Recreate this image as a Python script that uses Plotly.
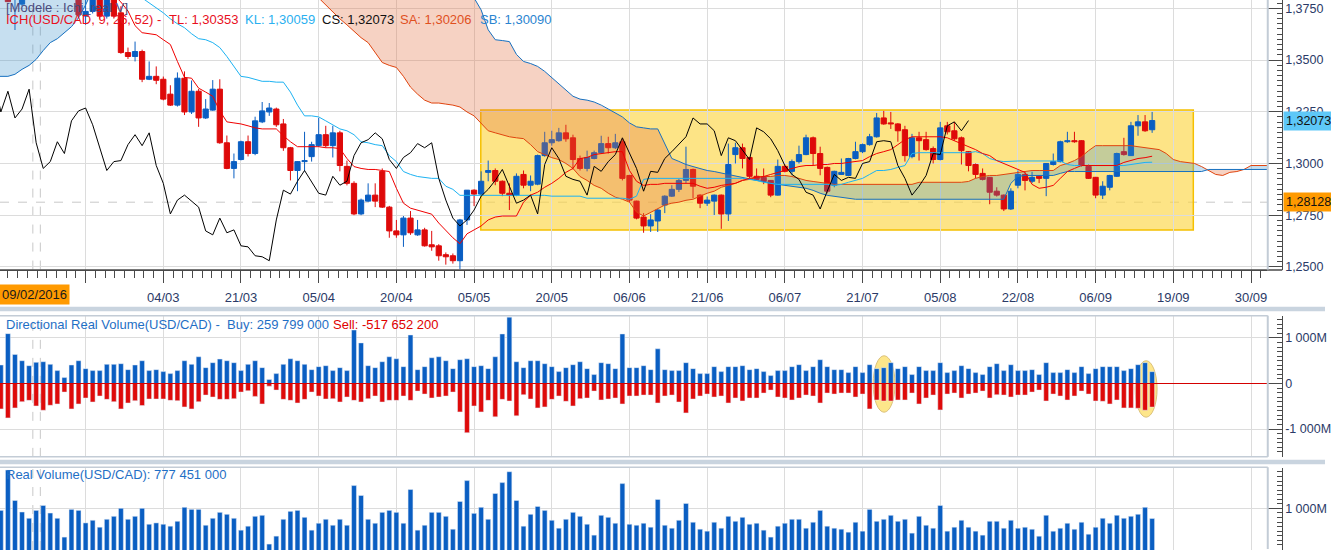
import plotly.graph_objects as go

W, H = 1331, 555

# one bar per weekday, bar 0 = 01/02/2016, last bar 164 = 16/09/2016
opens = [
    1.4030, 1.4050, 1.3985, 1.3800, 1.3770, 1.3880, 1.3920, 1.3890, 1.3860, 1.3900,
    1.3880, 1.3840, 1.3870, 1.3712, 1.3735, 1.3825, 1.3712, 1.3805, 1.3728, 1.3536,
    1.3517, 1.3541, 1.3407, 1.3421, 1.3407, 1.3335, 1.3282, 1.3412, 1.3249, 1.3349,
    1.3220, 1.3258, 1.3359, 1.3100, 1.2976, 1.3019, 1.3105, 1.3048, 1.3201, 1.3249,
    1.3263, 1.3191, 1.3076, 1.2966, 1.3009, 1.3033, 1.3086, 1.3139, 1.3086, 1.3148,
    1.2986, 1.2904, 1.2756, 1.2818, 1.2847, 1.2962, 1.2789, 1.2674, 1.2655, 1.2736,
    1.2655, 1.2679, 1.2607, 1.2602, 1.2559, 1.2554, 1.2530, 1.2727, 1.2871, 1.2852,
    1.2957, 1.2966, 1.2914, 1.2856, 1.2847, 1.2947, 1.2895, 1.2900, 1.3038, 1.3100,
    1.3110, 1.3148, 1.3124, 1.3024, 1.2976, 1.3024, 1.3052, 1.3096, 1.3076, 1.3105,
    1.2942, 1.2818, 1.2741, 1.2698, 1.2722, 1.2799, 1.2842, 1.2875, 1.2918, 1.2971,
    1.2847, 1.2808, 1.2818, 1.2847, 1.2756, 1.3043, 1.3076, 1.3029, 1.2938, 1.2933,
    1.2918, 1.2847, 1.2986, 1.2962, 1.3009, 1.3043, 1.3124, 1.3048, 1.2981, 1.2895,
    1.2947, 1.2942, 1.3024, 1.3057, 1.3091, 1.3129, 1.3220, 1.3196, 1.3191, 1.3163,
    1.3033, 1.3124, 1.3115, 1.3072, 1.3019, 1.3182, 1.3158, 1.3124, 1.3057, 1.2995,
    1.2952, 1.2933, 1.2866, 1.2847, 1.2780, 1.2895, 1.2947, 1.2914, 1.2938, 1.2928,
    1.2995, 1.3009, 1.3105, 1.3110, 1.3110, 1.2986, 1.2933, 1.2847, 1.2885, 1.2938,
    1.3057, 1.3038, 1.3182, 1.3201, 1.3163,
]
highs = [
    1.4085, 1.4090, 1.4000, 1.3850, 1.3905, 1.3950, 1.3960, 1.3930, 1.3920, 1.3950,
    1.3920, 1.3900, 1.3890, 1.3800, 1.3850, 1.3840, 1.3830, 1.3820, 1.3760, 1.3560,
    1.3589, 1.3550, 1.3493, 1.3469, 1.3420, 1.3378, 1.3440, 1.3445, 1.3401, 1.3360,
    1.3311, 1.3403, 1.3407, 1.3135, 1.3048, 1.3110, 1.3135, 1.3226, 1.3297, 1.3292,
    1.3270, 1.3215, 1.3080, 1.3010, 1.3153, 1.3105, 1.3220, 1.3182, 1.3182, 1.3158,
    1.3014, 1.2914, 1.2830, 1.2904, 1.2904, 1.2976, 1.2795, 1.2727, 1.2746, 1.2770,
    1.2727, 1.2689, 1.2674, 1.2610, 1.2570, 1.2565, 1.2732, 1.2871, 1.2875, 1.2962,
    1.3014, 1.2976, 1.2918, 1.2904, 1.2952, 1.2966, 1.2942, 1.3043, 1.3153, 1.3158,
    1.3172, 1.3187, 1.3139, 1.3038, 1.3062, 1.3062, 1.3134, 1.3129, 1.3143, 1.3119,
    1.2945, 1.2820, 1.2760, 1.2755, 1.2780, 1.2846, 1.2895, 1.2925, 1.3081, 1.2975,
    1.2851, 1.2840, 1.2850, 1.2850, 1.3096, 1.3100, 1.3096, 1.3030, 1.2976, 1.2976,
    1.2920, 1.3019, 1.2995, 1.3019, 1.3086, 1.3139, 1.3130, 1.3081, 1.2985, 1.2965,
    1.3024, 1.3027, 1.3105, 1.3096, 1.3143, 1.3244, 1.3254, 1.3249, 1.3195, 1.3182,
    1.3143, 1.3153, 1.3153, 1.3082, 1.3201, 1.3201, 1.3201, 1.3130, 1.3060, 1.3000,
    1.2976, 1.2935, 1.2885, 1.2850, 1.2880, 1.2966, 1.2957, 1.2960, 1.2942, 1.3002,
    1.3048, 1.3110, 1.3153, 1.3153, 1.3112, 1.2995, 1.2935, 1.2914, 1.2945, 1.3052,
    1.3124, 1.3201, 1.3234, 1.3234, 1.3249,
]
lows = [
    1.3985, 1.3960, 1.3780, 1.3645, 1.3760, 1.3840, 1.3860, 1.3830, 1.3820, 1.3850,
    1.3810, 1.3800, 1.3705, 1.3670, 1.3725, 1.3700, 1.3700, 1.3700, 1.3530, 1.3505,
    1.3493, 1.3393, 1.3403, 1.3383, 1.3305, 1.3278, 1.3275, 1.3234, 1.3239, 1.3177,
    1.3215, 1.3255, 1.3095, 1.2972, 1.2928, 1.3015, 1.3034, 1.3040, 1.3195, 1.3230,
    1.3177, 1.3061, 1.2918, 1.2866, 1.2962, 1.3009, 1.3080, 1.3076, 1.3029, 1.2962,
    1.2894, 1.2750, 1.2750, 1.2815, 1.2789, 1.2785, 1.2641, 1.2641, 1.2597, 1.2655,
    1.2650, 1.2598, 1.2578, 1.2530, 1.2511, 1.2516, 1.2488, 1.2703, 1.2794, 1.2845,
    1.2914, 1.2895, 1.2842, 1.2775, 1.2842, 1.2880, 1.2866, 1.2895, 1.3033, 1.3086,
    1.3105, 1.3105, 1.2971, 1.2966, 1.2962, 1.3020, 1.3048, 1.3048, 1.3070, 1.2918,
    1.2813, 1.2730, 1.2665, 1.2669, 1.2669, 1.2760, 1.2838, 1.2862, 1.2904, 1.2832,
    1.2784, 1.2795, 1.2751, 1.2684, 1.2722, 1.3000, 1.2976, 1.2930, 1.2920, 1.2900,
    1.2837, 1.2845, 1.2957, 1.2943, 1.3000, 1.3040, 1.2990, 1.2943, 1.2856, 1.2885,
    1.2945, 1.2940, 1.3020, 1.3050, 1.3086, 1.3125, 1.3187, 1.3167, 1.3105, 1.3009,
    1.3025, 1.3014, 1.3062, 1.3000, 1.3015, 1.3140, 1.3110, 1.2995, 1.2962, 1.2928,
    1.2918, 1.2803, 1.2840, 1.2770, 1.2775, 1.2880, 1.2870, 1.2905, 1.2905, 1.2842,
    1.2990, 1.3005, 1.3100, 1.3100, 1.2985, 1.2925, 1.2832, 1.2828, 1.2870, 1.2935,
    1.3038, 1.3036, 1.3134, 1.3153, 1.3148,
]
closes = [
    1.4050, 1.3985, 1.3782, 1.3830, 1.3880, 1.3920, 1.3890, 1.3860, 1.3900, 1.3880,
    1.3840, 1.3870, 1.3718, 1.3735, 1.3825, 1.3712, 1.3805, 1.3712, 1.3536, 1.3517,
    1.3541, 1.3407, 1.3421, 1.3402, 1.3311, 1.3282, 1.3412, 1.3249, 1.3349, 1.3220,
    1.3263, 1.3359, 1.3100, 1.2976, 1.3009, 1.3105, 1.3048, 1.3206, 1.3254, 1.3268,
    1.3187, 1.3076, 1.2966, 1.3009, 1.3014, 1.3091, 1.3139, 1.3086, 1.3148, 1.2990,
    1.2904, 1.2756, 1.2823, 1.2847, 1.2818, 1.2789, 1.2674, 1.2655, 1.2736, 1.2665,
    1.2679, 1.2602, 1.2597, 1.2554, 1.2549, 1.2530, 1.2727, 1.2871, 1.2852, 1.2914,
    1.2966, 1.2914, 1.2856, 1.2847, 1.2938, 1.2895, 1.2914, 1.3038, 1.3100, 1.3115,
    1.3148, 1.3119, 1.3019, 1.2976, 1.3029, 1.3052, 1.3096, 1.3076, 1.3100, 1.2928,
    1.2823, 1.2736, 1.2698, 1.2727, 1.2775, 1.2842, 1.2875, 1.2918, 1.2971, 1.2890,
    1.2808, 1.2823, 1.2847, 1.2756, 1.2995, 1.3076, 1.3024, 1.2938, 1.2923, 1.2914,
    1.2847, 1.2986, 1.2962, 1.3009, 1.3043, 1.3124, 1.3048, 1.2976, 1.2866, 1.2962,
    1.2957, 1.3024, 1.3057, 1.3091, 1.3129, 1.3220, 1.3191, 1.3191, 1.3158, 1.3038,
    1.3124, 1.3110, 1.3067, 1.3019, 1.3172, 1.3153, 1.3119, 1.3062, 1.2990, 1.2947,
    1.2923, 1.2861, 1.2847, 1.2780, 1.2866, 1.2947, 1.2918, 1.2933, 1.2928, 1.3000,
    1.3009, 1.3105, 1.3110, 1.3105, 1.2990, 1.2928, 1.2847, 1.2890, 1.2942, 1.3048,
    1.3043, 1.3182, 1.3201, 1.3158, 1.32073,
]

# Ichimoku lines
tenkan_start = 17
tenkan = [
    1.3814, 1.3780, 1.3737, 1.3666, 1.3632, 1.3627, 1.3622, 1.3598, 1.3575, 1.3493,
    1.3416, 1.3412, 1.3364, 1.3345, 1.3325, 1.3254, 1.3201, 1.3196, 1.3191, 1.3182,
    1.3172, 1.3167, 1.3167, 1.3167, 1.3134, 1.3105, 1.3081, 1.3081, 1.3081, 1.3081,
    1.3076, 1.3076, 1.3072, 1.3024, 1.2985, 1.2976, 1.2971, 1.2971, 1.2966, 1.2961,
    1.2880, 1.2808, 1.2784, 1.2775, 1.2765, 1.2755, 1.2712, 1.2674, 1.2641, 1.2612,
    1.2660, 1.2679, 1.2698, 1.2727, 1.2741, 1.2746, 1.2746, 1.2746, 1.2813, 1.2847,
    1.2861, 1.2885, 1.2904, 1.2928, 1.2957, 1.2976, 1.3024, 1.3029, 1.3043, 1.3048,
    1.3052, 1.3057, 1.3057, 1.2966, 1.2914, 1.2894, 1.2899, 1.2899, 1.2904, 1.2904,
    1.2904, 1.2904, 1.2904, 1.2890, 1.2880, 1.2885, 1.2894, 1.2899, 1.2904, 1.2918,
    1.2928, 1.2933, 1.2937, 1.2947, 1.2957, 1.2966, 1.2976, 1.2985, 1.2990, 1.2990,
    1.2995, 1.2995, 1.3000, 1.3000, 1.3005, 1.3009, 1.3014, 1.3033, 1.3048, 1.3057,
    1.3067, 1.3091, 1.3115, 1.3129, 1.3129, 1.3129, 1.3129, 1.3129, 1.3124, 1.3110,
    1.3096, 1.3081, 1.3067, 1.3048, 1.3038, 1.3014, 1.3000, 1.2985, 1.2971, 1.2957,
    1.2899, 1.2880, 1.2885, 1.2894, 1.2928, 1.2961, 1.2976, 1.2990, 1.2990, 1.2990,
    1.2990, 1.2990, 1.2990, 1.3005, 1.3014, 1.3024, 1.3028, 1.3035,
]
kijun_start = 21
kijun = [
    1.3800, 1.3776, 1.3752, 1.3728, 1.3699, 1.3675, 1.3656, 1.3627, 1.3603, 1.3598,
    1.3584, 1.3560, 1.3517, 1.3469, 1.3421, 1.3416, 1.3407, 1.3397, 1.3397, 1.3393,
    1.3393, 1.3345, 1.3282, 1.3230, 1.3230, 1.3225, 1.3206, 1.3187, 1.3167, 1.3158,
    1.3139, 1.3105, 1.3100, 1.3091, 1.3086, 1.3038, 1.3009, 1.2961, 1.2947, 1.2937,
    1.2933, 1.2928, 1.2928, 1.2890, 1.2875, 1.2846, 1.2846, 1.2846, 1.2846, 1.2846,
    1.2846, 1.2846, 1.2846, 1.2846, 1.2846, 1.2846, 1.2846, 1.2846, 1.2842, 1.2842,
    1.2842, 1.2842, 1.2842, 1.2832, 1.2832, 1.2832, 1.2832, 1.2832, 1.2832, 1.2827,
    1.2842, 1.2923, 1.2928, 1.2928, 1.2928, 1.2928, 1.2928, 1.2928, 1.2928, 1.2928,
    1.2928, 1.2928, 1.2928, 1.2928, 1.2928, 1.2928, 1.2923, 1.2918, 1.2909, 1.2904,
    1.2899, 1.2899, 1.2899, 1.2899, 1.2899, 1.2899, 1.2899, 1.2899, 1.2894, 1.2899,
    1.2909, 1.2918, 1.2928, 1.2947, 1.2966, 1.2966, 1.2971, 1.2981, 1.2990, 1.3048,
    1.3052, 1.3052, 1.3052, 1.3052, 1.3052, 1.3052, 1.3052, 1.3052, 1.3057, 1.3048,
    1.3024, 1.3014, 1.3009, 1.3012, 1.3012, 1.3012, 1.3012, 1.3012, 1.3012, 1.3012,
    1.3012, 1.2995, 1.2990, 1.2990, 1.2990, 1.2990, 1.2990, 1.2990, 1.2990, 1.2990,
    1.2995, 1.3000, 1.3005, 1.3006,
]
# senkou spans, bar 0 .. 181 (runs 17 bars past the last candle)
senkou_a = [
    1.4100, 1.4100, 1.4100, 1.4100, 1.4100, 1.4100, 1.4100, 1.4100, 1.4100, 1.4100,
    1.4100, 1.4100, 1.4100, 1.4100, 1.4100, 1.4100, 1.4100, 1.4100, 1.4100, 1.4100,
    1.4100, 1.4100, 1.4100, 1.4100, 1.4100, 1.4100, 1.3950, 1.3950, 1.3950, 1.3950,
    1.3950, 1.3950, 1.3950, 1.3950, 1.3950, 1.3950, 1.3950, 1.3950, 1.3950, 1.3950,
    1.3950, 1.3950, 1.3950, 1.3950, 1.3950, 1.3950, 1.3800, 1.3766, 1.3733, 1.3699,
    1.3670, 1.3637, 1.3608, 1.3584, 1.3536, 1.3488, 1.3474, 1.3464, 1.3421, 1.3369,
    1.3335, 1.3306, 1.3292, 1.3292, 1.3287, 1.3282, 1.3273, 1.3249, 1.3230, 1.3196,
    1.3158, 1.3148, 1.3139, 1.3129, 1.3124, 1.3120, 1.3091, 1.3057, 1.3043, 1.3028,
    1.3019, 1.3000, 1.2976, 1.2937, 1.2918, 1.2894, 1.2880, 1.2856, 1.2837, 1.2827,
    1.2813, 1.2765, 1.2746, 1.2765, 1.2784, 1.2799, 1.2808, 1.2813, 1.2822, 1.2827,
    1.2842, 1.2856, 1.2866, 1.2885, 1.2894, 1.2904, 1.2918, 1.2923, 1.2933, 1.2937,
    1.2937, 1.2942, 1.2942, 1.2937, 1.2928, 1.2918, 1.2913, 1.2909, 1.2904, 1.2899,
    1.2899, 1.2899, 1.2899, 1.2899, 1.2899, 1.2899, 1.2899, 1.2899, 1.2899, 1.2899,
    1.2899, 1.2909, 1.2909, 1.2909, 1.2909, 1.2909, 1.2909, 1.2909, 1.2913, 1.2928,
    1.2937, 1.2942, 1.2942, 1.2947, 1.2952, 1.2957, 1.2961, 1.2966, 1.2966, 1.2966,
    1.2966, 1.2990, 1.3000, 1.3014, 1.3033, 1.3062, 1.3086, 1.3086, 1.3086, 1.3086,
    1.3086, 1.3086, 1.3081, 1.3076, 1.3072, 1.3067, 1.3048, 1.3019, 1.3009, 1.3004,
    1.3000, 1.2985, 1.2966, 1.2947, 1.2942, 1.2957, 1.2961, 1.2971, 1.2990, 1.2990,
    1.2990, 1.2990,
]
senkou_b = [
    1.3421, 1.3421, 1.3421, 1.3431, 1.3455, 1.3474, 1.3503, 1.3546, 1.3584, 1.3603,
    1.3632, 1.3661, 1.3704, 1.3766, 1.3840, 1.4000, 1.4000, 1.4000, 1.4000, 1.4000,
    1.4000, 1.4000, 1.4000, 1.4000, 1.4000, 1.4000, 1.4000, 1.4000, 1.4000, 1.4000,
    1.4000, 1.4000, 1.4000, 1.4000, 1.4000, 1.4000, 1.4000, 1.4000, 1.4000, 1.4000,
    1.4000, 1.4000, 1.4000, 1.4000, 1.4000, 1.4000, 1.4000, 1.4000, 1.4000, 1.4000,
    1.4000, 1.4000, 1.4000, 1.4000, 1.4000, 1.4000, 1.4000, 1.4000, 1.4000, 1.4000,
    1.4000, 1.4000, 1.4000, 1.4000, 1.4000, 1.4000, 1.4000, 1.4000, 1.3800, 1.3742,
    1.3646, 1.3598, 1.3594, 1.3589, 1.3527, 1.3493, 1.3483, 1.3469, 1.3445, 1.3416,
    1.3383, 1.3354, 1.3325, 1.3311, 1.3306, 1.3297, 1.3282, 1.3263, 1.3244, 1.3225,
    1.3196, 1.3177, 1.3172, 1.3167, 1.3167, 1.3095, 1.3024, 1.3010, 1.2995, 1.2985,
    1.2976, 1.2966, 1.2961, 1.2954, 1.2947, 1.2940, 1.2933, 1.2923, 1.2918, 1.2913,
    1.2904, 1.2899, 1.2894, 1.2890, 1.2885, 1.2880, 1.2870, 1.2856, 1.2846, 1.2842,
    1.2837, 1.2832, 1.2827, 1.2827, 1.2827, 1.2827, 1.2827, 1.2827, 1.2827, 1.2827,
    1.2827, 1.2827, 1.2827, 1.2827, 1.2827, 1.2827, 1.2827, 1.2827, 1.2827, 1.2827,
    1.2827, 1.2827, 1.2827, 1.2827, 1.2904, 1.2937, 1.2942, 1.2942, 1.2942, 1.2942,
    1.2942, 1.2952, 1.2961, 1.2961, 1.2961, 1.2961, 1.2961, 1.2961, 1.2961, 1.2961,
    1.2961, 1.2961, 1.2961, 1.2961, 1.2961, 1.2961, 1.2961, 1.2961, 1.2961, 1.2961,
    1.2961, 1.2961, 1.2971, 1.2971, 1.2971, 1.2971, 1.2971, 1.2971, 1.2971, 1.2971,
    1.2971, 1.2971,
]

# volumes in millions, bar 1 .. 164
vol_start = 1
buy_vol = [
    406, 1094, 638, 500, 391, 464, 478, 420, 283, 130,
    406, 500, 326, 283, 283, 420, 420, 435, 304, 406,
    500, 283, 304, 261, 217, 283, 500, 420, 587, 348,
    457, 536, 500, 457, 283, 420, 500, 348, 87, 217,
    420, 543, 500, 420, 304, 370, 391, 283, 348, 283,
    1174, 891, 391, 348, 478, 587, 543, 370, 1065, 304,
    370, 565, 587, 500, 326, 522, 543, 370, 391, 326,
    587, 1087, 1456, 478, 348, 500, 500, 435, 370, 261,
    348, 413, 478, 326, 196, 457, 435, 326, 1087, 348,
    348, 391, 304, 761, 304, 283, 283, 457, 326, 217,
    217, 370, 261, 370, 370, 391, 304, 326, 261, 174,
    283, 283, 370, 413, 283, 370, 522, 370, 304, 304,
    239, 370, 239, 413, 326, 348, 457, 326, 370, 196,
    370, 283, 283, 457, 239, 283, 391, 326, 239, 196,
    370, 435, 283, 413, 283, 283, 304, 196, 457, 239,
    239, 304, 239, 370, 217, 326, 370, 370, 370, 283,
    326, 413, 457, 260,
]
sell_vol = [
    -558, -754, -536, -399, -370, -493, -587, -478, -449, -188,
    -558, -449, -319, -406, -275, -348, -399, -558, -428, -377,
    -485, -341, -341, -341, -370, -377, -514, -558, -399, -254,
    -297, -348, -348, -333, -188, -159, -283, -449, -58, -145,
    -348, -370, -428, -348, -188, -275, -341, -333, -406, -297,
    -370, -406, -333, -275, -406, -370, -370, -275, -370, -167,
    -232, -319, -297, -275, -188, -623, -1080, -493, -623, -370,
    -732, -348, -384, -710, -246, -341, -536, -514, -348, -275,
    -391, -493, -333, -319, -167, -362, -341, -319, -449, -275,
    -275, -254, -254, -428, -275, -254, -406, -645, -341, -275,
    -232, -297, -275, -428, -319, -384, -319, -319, -210, -145,
    -297, -319, -362, -319, -254, -275, -428, -210, -232, -210,
    -210, -297, -232, -558, -362, -384, -384, -362, -362, -210,
    -449, -319, -254, -580, -232, -210, -319, -232, -210, -167,
    -319, -246, -254, -297, -254, -254, -188, -145, -384, -232,
    -275, -362, -275, -167, -232, -384, -391, -449, -362, -536,
    -536, -543, -587, -518,
]
real_vol = [
    956, 1840, 1174, 920, 783, 956, 1065, 898, 783, 370,
    978, 956, 681, 739, 587, 761, 826, 1000, 761, 826,
    1000, 652, 681, 652, 609, 717, 1022, 978, 978, 630,
    783, 913, 870, 783, 522, 609, 826, 848, 217, 391,
    761, 935, 956, 804, 522, 674, 761, 630, 761, 630,
    1500, 1283, 761, 674, 913, 956, 913, 674, 1413, 522,
    630, 913, 913, 826, 543, 1152, 1609, 891, 1022, 761,
    1326, 1565, 1804, 1174, 609, 870, 1043, 956, 739, 565,
    761, 913, 826, 652, 413, 848, 804, 674, 1543, 652,
    630, 674, 587, 1196, 630, 565, 739, 1109, 696, 543,
    500, 696, 565, 826, 717, 804, 652, 674, 522, 370,
    609, 674, 761, 761, 565, 696, 956, 609, 565, 543,
    478, 696, 500, 978, 717, 761, 848, 717, 761, 457,
    826, 630, 565, 1065, 500, 587, 739, 587, 500, 413,
    717, 717, 565, 739, 565, 587, 543, 391, 848, 500,
    565, 674, 543, 696, 435, 587, 783, 674, 848, 783,
    826, 870, 1022, 777,
]

tick_bars = [13, 24, 35, 46, 57, 68, 79, 90, 101, 112, 123, 134, 145, 156, 167, 178]
tick_labels = ["", "04/03", "21/03", "05/04", "20/04", "05/05", "20/05", "06/06",
               "21/06", "06/07", "21/07", "05/08", "22/08", "06/09", "19/09", "30/09"]

BLUE = "#0a5ec2"
RED = "#de0a0a"
GRID = "#dcdcdc"
AXIS = "#4a4a4a"
FRAME = "#c3ccd6"
TICKTXT = "#2b3a67"
FONT = "Liberation Sans, Arial, sans-serif"


def fx(p):
    return p / W


def fy(p):
    return 1 - p / H


bars = list(range(len(closes)))
up = [c >= o for o, c in zip(opens, closes)]
candle_col = [BLUE if u else RED for u in up]

fig = go.Figure()

# wicks
for flag, col in ((True, BLUE), (False, RED)):
    wx, wy = [], []
    for i in bars:
        if up[i] == flag:
            wx += [i, i, None]
            wy += [lows[i], highs[i], None]
    fig.add_trace(go.Scatter(x=wx, y=wy, mode="lines", line=dict(color=col, width=1),
                             hoverinfo="skip"))

# bodies
fig.add_trace(go.Bar(
    x=bars,
    y=[abs(c - o) for o, c in zip(opens, closes)],
    base=[min(o, c) for o, c in zip(opens, closes)],
    width=0.74,
    marker=dict(color=candle_col, line=dict(color=candle_col, width=1)),
    hoverinfo="skip",
))

# kumo, coloured by which span is on top
cloud_x = list(range(len(senkou_a)))
start = 0
for k in range(1, len(cloud_x) + 1):
    if k == len(cloud_x) or (senkou_a[k] >= senkou_b[k]) != (senkou_a[start] >= senkou_b[start]):
        end = min(k, len(cloud_x) - 1)
        seg = cloud_x[start:end + 1]
        bull = senkou_a[start] >= senkou_b[start]
        fig.add_trace(go.Scatter(
            x=seg + seg[::-1],
            y=senkou_a[start:end + 1] + senkou_b[start:end + 1][::-1],
            mode="lines", fill="toself", line=dict(width=0),
            fillcolor="rgba(60,145,205,0.29)" if bull else "rgba(225,110,60,0.31)",
            hoverinfo="skip",
        ))
        start = k

fig.add_trace(go.Scatter(x=cloud_x, y=senkou_a, mode="lines",
                         line=dict(color="#e0440e", width=1), hoverinfo="skip"))
fig.add_trace(go.Scatter(x=cloud_x, y=senkou_b, mode="lines",
                         line=dict(color="#1670c0", width=1), hoverinfo="skip"))
fig.add_trace(go.Scatter(x=list(range(kijun_start, kijun_start + len(kijun))), y=kijun,
                         mode="lines", line=dict(color="#1cb2f2", width=1), hoverinfo="skip"))
fig.add_trace(go.Scatter(x=list(range(tenkan_start, tenkan_start + len(tenkan))), y=tenkan,
                         mode="lines", line=dict(color="#f00000", width=1), hoverinfo="skip"))
# chikou: closes drawn 26 bars back
fig.add_trace(go.Scatter(x=[i - 26 for i in bars[26:]], y=closes[26:], mode="lines",
                         line=dict(color="#000000", width=1), hoverinfo="skip"))

vol_x = list(range(vol_start, vol_start + len(buy_vol)))
fig.add_trace(go.Bar(x=vol_x, y=buy_vol, width=0.69, marker_color=BLUE,
                     xaxis="x2", yaxis="y2", hoverinfo="skip"))
fig.add_trace(go.Bar(x=vol_x, y=sell_vol, width=0.69, marker_color=RED,
                     xaxis="x2", yaxis="y2", hoverinfo="skip"))
fig.add_trace(go.Bar(x=vol_x, y=real_vol, width=0.69, marker_color=BLUE,
                     xaxis="x3", yaxis="y3", hoverinfo="skip"))
# carrier for the minor date ticks
fig.add_trace(go.Scatter(x=[None], y=[None], xaxis="x4", yaxis="y", hoverinfo="skip"))

xr = [0.88, 180.3]
xdom = [0, fx(1273)]
common_x = dict(range=xr, domain=xdom, tickmode="array", tickvals=tick_bars,
                showgrid=True, gridcolor=GRID, gridwidth=1, zeroline=False)
common_y = dict(anchor="free", position=fx(1287.5), side="right", ticks="inside",
                ticklen=14, tickcolor=AXIS, showline=True, linecolor=AXIS, linewidth=1,
                showgrid=True, gridcolor=GRID, zeroline=False,
                tickfont=dict(size=12.5, color=TICKTXT))

fig.update_layout(
    width=W, height=H,
    margin=dict(l=0, r=0, t=0, b=0),
    paper_bgcolor="white", plot_bgcolor="white",
    showlegend=False, barmode="overlay", separators=", ",
    font=dict(family=FONT, size=13, color="#333333"),
    xaxis=dict(**common_x, anchor="y", ticktext=tick_labels, ticks="outside", ticklen=12,
               tickcolor=AXIS, showline=True, linecolor=AXIS, linewidth=1,
               tickfont=dict(size=13, color=TICKTXT), ticklabelstandoff=4),
    xaxis2=dict(**common_x, anchor="y2", showticklabels=False, ticks=""),
    xaxis3=dict(**common_x, anchor="y3", showticklabels=False, ticks=""),
    xaxis4=dict(range=xr, overlaying="x", anchor="y", side="bottom", tickmode="linear",
                tick0=13, dtick=1.375, ticks="outside", ticklen=7, tickcolor=AXIS,
                showticklabels=False, showgrid=False, zeroline=False),
    yaxis=dict(**common_y, domain=[fy(272), 1], range=[1.24873, 1.3790],
               tickmode="linear", tick0=1.25, dtick=0.025, tickformat=".4f",
               minor=dict(tick0=1.25, dtick=0.0025, ticks="inside", ticklen=5,
                          tickcolor=AXIS, showgrid=False)),
    yaxis2=dict(**common_y, domain=[fy(461), fy(319)], range=[-1609, 1478],
                tickmode="array", tickvals=[-1000, 1000, 0],
                ticktext=["-1 000M", "1 000M", "0"],
                minor=dict(tickmode="linear", tick0=0, dtick=100, ticks="inside", ticklen=5,
                           tickcolor=AXIS, showgrid=False)),
    yaxis3=dict(**common_y, domain=[0, fy(472)], range=[87, 1891],
                tickmode="array", tickvals=[1000], ticktext=["1 000M"],
                minor=dict(tickmode="linear", tick0=0, dtick=100, ticks="inside", ticklen=5,
                           tickcolor=AXIS, showgrid=False)),
)

shapes = [
    # analysis box drawn on the price panel
    dict(type="rect", xref="x", yref="y", x0=68.95, x1=169.83, y0=1.26789, y1=1.32584,
         fillcolor="rgba(252,212,60,0.62)", line=dict(color="#f5c000", width=1.5),
         layer="below"),
    # highlight ellipses on the directional volume
    dict(type="circle", xref="x2", yref="y2", x0=124.5, x1=127.6, y0=-630, y1=609,
         fillcolor="#fde68a", line=dict(color="#dcc27c", width=1), layer="below"),
    dict(type="circle", xref="x2", yref="y2", x0=161.6, x1=164.7, y0=-739, y1=500,
         fillcolor="#fde68a", line=dict(color="#dcc27c", width=1), layer="below"),
    # crosshair
    dict(type="line", xref="x domain", yref="y", x0=0, x1=1, y0=1.28128, y1=1.28128,
         line=dict(color="#c8c8c8", width=1, dash="dash"), layer="below"),
    # zero line of the directional volume, over the bars
    dict(type="line", xref="paper", yref="y2", x0=0, x1=fx(1273), y0=0, y1=0,
         line=dict(color="#d40000", width=1.2)),
]
for xa, ya in (("x", "y"), ("x2", "y2"), ("x3", "y3")):
    for xv in (5.53, 6.59):
        shapes.append(dict(type="line", xref=xa, yref=ya + " domain", x0=xv, x1=xv, y0=0, y1=1,
                           line=dict(color="#c8c8c8", width=1, dash="dash"), layer="below"))


def hline(py, x1=1.0, color=FRAME, width=1.5):
    return dict(type="line", xref="paper", yref="paper", x0=0, x1=x1, y0=fy(py), y1=fy(py),
                line=dict(color=color, width=width))


def vline(px, top, bottom, color=FRAME, width=2):
    return dict(type="line", xref="paper", yref="paper", x0=fx(px), x1=fx(px),
                y0=fy(bottom), y1=fy(top), line=dict(color=color, width=width))


# panel frames and separators
shapes += [
    dict(type="rect", xref="paper", yref="paper", x0=0, x1=1, y0=fy(314), y1=fy(309.5),
         fillcolor="#c9d4df", line=dict(width=0)),
    dict(type="rect", xref="paper", yref="paper", x0=0, x1=1, y0=fy(468.5), y1=fy(464),
         fillcolor="#c9d4df", line=dict(width=0)),
    hline(318.5, fx(1273.5)),
    hline(461, fx(1273.5)),
    hline(471.5, fx(1273.5)),
    hline(272.5, fx(1288), AXIS, 1.5),
    vline(1273.5, 0, 272),
    vline(1273.5, 318.5, 461),
    vline(1273.5, 471.5, 554),
]
fig.update_layout(shapes=shapes)


def label(text, x, y, color, **kw):
    return dict(text=text, xref="paper", yref="paper", x=fx(x), y=fy(y),
                xanchor="left", yanchor="middle", showarrow=False,
                font=dict(family=FONT, size=13, color=color), **kw)


annotations = [
    label("[Modele : Ichi_real V]", 4, 7.5, "#4a4a7c"),
    label("ICH(USD/CAD, 9, 26, 52) -", 4, 20, "#e8101e"),
    label("TL: 1,30353", 168, 20, "#e8101e"),
    label("KL: 1,30059", 244, 20, "#2ab0f0"),
    label("CS: 1,32073", 321, 20, "#111111"),
    label("SA: 1,30206", 400, 20, "#e0501e"),
    label("SB: 1,30090", 480, 20, "#2a84d0"),
    label("Directional Real Volume(USD/CAD) -  Buy: 259 799 000", 4, 327, "#1f6fc5"),
    label("Sell: -517 652 200", 333, 327, "#e00000"),
    label("Real Volume(USD/CAD): 777 451 000", 4, 479, "#1f6fc5"),
    label("09/02/2016", -1, 297, "#1a1a1a", bgcolor="#ff9a00", borderpad=2),
    dict(text="1,32073", xref="paper", yref="y", x=fx(1289), y=1.32073, xanchor="left",
         yanchor="middle", showarrow=False, bgcolor="#5ec8f8", borderpad=2,
         font=dict(family=FONT, size=12.5, color="#111111")),
    dict(text="1,28128", xref="paper", yref="y", x=fx(1289), y=1.28128, xanchor="left",
         yanchor="middle", showarrow=False, bgcolor="#ff9a00", borderpad=2,
         font=dict(family=FONT, size=12.5, color="#111111")),
]
fig.update_layout(annotations=annotations)

# no body margin; if the browser viewport differs from 1331x555, size the figure to it
# (the layout is all in paper fractions, so it just scales)
page_js = (
    "document.documentElement.style.overflow='hidden';"
    "document.body.style.margin='0';document.body.style.overflow='hidden';"
    "var gd=document.getElementById('{plot_id}');"
    "var w=window.innerWidth,h=window.innerHeight;"
    "if(w>0&&h>0&&(w!==1331||h!==555)){Plotly.relayout(gd,{width:w,height:h});}"
)
fig.write_html("out.html", config={"displayModeBar": False}, post_script=page_js)
